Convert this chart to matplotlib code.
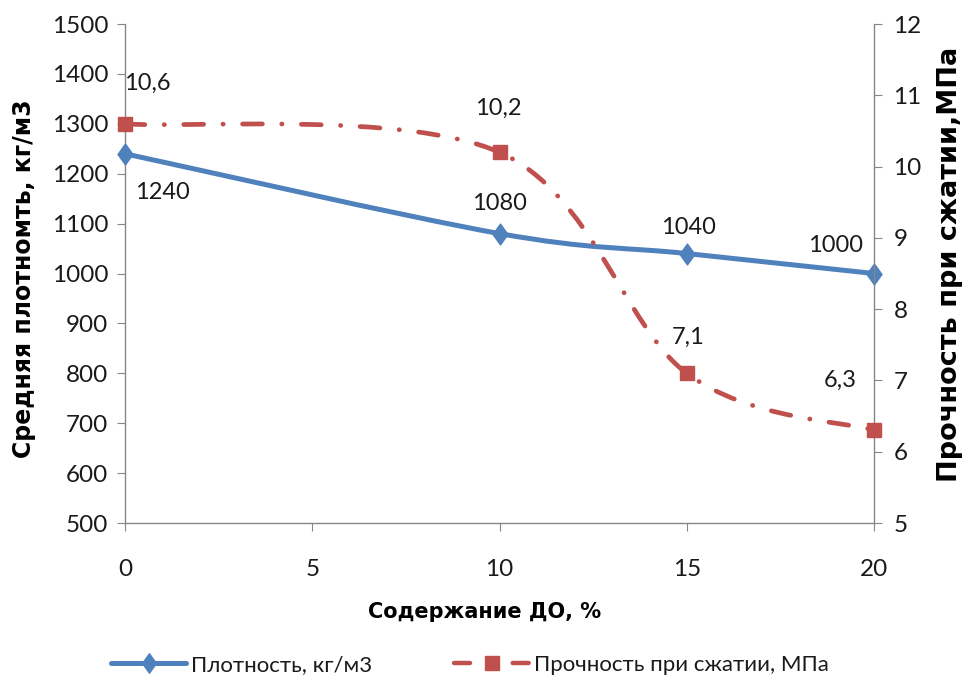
import matplotlib
matplotlib.use("Agg")
import matplotlib.pyplot as plt
from matplotlib.path import Path
from matplotlib.patches import PathPatch
from matplotlib.lines import Line2D
import numpy as np

plt.rcParams['font.family'] = ['Lato', 'Open Sans', 'DejaVu Sans']

# ---- data ----
content = [0, 10, 15, 20]
density = [1240, 1080, 1040, 1000]
strength = [10.6, 10.2, 7.1, 6.3]
density_labels = ["1240", "1080", "1040", "1000"]
strength_labels = ["10,6", "10,2", "7,1", "6,3"]
xticks = [0, 5, 10, 15, 20]
yticks_left = [500, 600, 700, 800, 900, 1000, 1100, 1200, 1300, 1400, 1500]
yticks_right = [5, 6, 7, 8, 9, 10, 11, 12]
xlabel = "Содержание ДО, %"
ylabel_left = "Средняя плотномть, кг/м3"
ylabel_right = "Прочность при сжатии,МПа"
legend_labels = ["Плотность, кг/м3", "Прочность при сжатии, МПа"]

BLUE = "#4F81BD"
RED = "#C0504D"
GRAY = "#868686"
TXT = "#1a1a1a"

# tall diamond marker
DIAMOND = Path([(0, 1), (0.72, 0), (0, -1), (-0.72, 0), (0, 1)],
               [Path.MOVETO, Path.LINETO, Path.LINETO, Path.LINETO, Path.CLOSEPOLY])


def smooth_path(xs, ys):
    pts = np.column_stack([xs, ys]).astype(float)
    n = len(pts)
    verts = [pts[0]]
    codes = [Path.MOVETO]
    for i in range(n - 1):
        p0 = pts[i - 1] if i > 0 else pts[i]
        p1 = pts[i]
        p2 = pts[i + 1]
        p3 = pts[i + 2] if i + 2 < n else pts[i + 1]
        c1 = p1 + (p2 - p0) / 6.0
        c2 = p2 - (p3 - p1) / 6.0
        verts += [c1, c2, p2]
        codes += [Path.CURVE4] * 3
    return Path(np.array(verts), codes)


fig = plt.figure(figsize=(9.66, 6.92), dpi=100)
ax = fig.add_axes([125 / 966, 1 - 523 / 692, (874 - 125) / 966, (523 - 24) / 692])
ax2 = ax.twinx()

ax.set_xlim(0, 20)
ax.set_ylim(500, 1500)
ax2.set_ylim(5, 12)
ax.set_xticks(xticks)
ax.set_yticks(yticks_left)
ax2.set_yticks(yticks_right)

for a in (ax, ax2):
    a.spines['top'].set_visible(False)
    for s in ('left', 'right', 'bottom'):
        a.spines[s].set_color(GRAY)
        a.spines[s].set_linewidth(1.0)
ax.spines['right'].set_visible(False)
ax2.spines['left'].set_visible(False)
ax2.spines['bottom'].set_visible(False)

ax.tick_params(axis='x', direction='out', length=6, color=GRAY, pad=20, labelsize=17.5, labelcolor=TXT)
ax.tick_params(axis='y', direction='out', length=6, color=GRAY, pad=6, labelsize=17.5, labelcolor=TXT)
ax2.tick_params(axis='y', direction='out', length=6, color=GRAY, pad=8, labelsize=17.5, labelcolor=TXT)

# density curve
p1 = PathPatch(smooth_path(content, density), facecolor='none', edgecolor=BLUE,
               linewidth=3.6, capstyle='round', joinstyle='round', zorder=3)
ax.add_patch(p1)
ax.plot(content, density, linestyle='none', marker=DIAMOND, markersize=15,
        color=BLUE, zorder=4, clip_on=False)

# strength curve
p2 = PathPatch(smooth_path(content, strength), facecolor='none', edgecolor=RED,
               linewidth=3.4, linestyle=(0, (4.2, 4.1, 0.05, 4.1)),
               capstyle='round', joinstyle='round', zorder=3, transform=ax2.transData)
ax2.add_patch(p2)
ax2.plot(content, strength, linestyle='none', marker='s', markersize=10.5,
         color=RED, zorder=4, clip_on=False)

# data labels (offsets in points)
d_off = [(27, -28), (0, 22), (1, 19), (-28, 20)]
s_off = [(16, 29), (-1, 32), (1, 26), (-24, 36)]
for x, y, t, o in zip(content, density, density_labels, d_off):
    ax.annotate(t, (x, y), xytext=o, textcoords='offset points', ha='center', va='center',
                fontsize=17, color=TXT, zorder=5, annotation_clip=False)
for x, y, t, o in zip(content, strength, strength_labels, s_off):
    ax2.annotate(t, (x, y), xytext=o, textcoords='offset points', ha='center', va='center',
                 fontsize=17, color=TXT, zorder=5, annotation_clip=False)

fig.text(485 / 966, 1 - 612 / 692, xlabel, ha='center', va='center', fontsize=15,
         fontweight='bold', family='DejaVu Sans')
fig.text(24 / 966, 1 - 279 / 692, ylabel_left, ha='center', va='center', rotation=90,
         fontsize=17, fontweight='bold', family='DejaVu Sans')
fig.text(950 / 966, 1 - 264 / 692, ylabel_right, ha='center', va='center', rotation=90,
         fontsize=19.5, fontweight='bold', family='DejaVu Sans')

h1 = Line2D([], [], color=BLUE, lw=3.6, marker=DIAMOND, markersize=14, solid_capstyle='round')
h2 = Line2D([], [], color=RED, lw=3.2, marker='s', markersize=10,
            linestyle=(0, (3.6, 9.6)), dash_capstyle='round')
fig.legend([h1, h2], legend_labels, loc='center', bbox_to_anchor=(470 / 966, 1 - 665 / 692),
           ncol=2, frameon=False, fontsize=16, handlelength=3.4, columnspacing=3.7,
           handletextpad=0.2, labelcolor=TXT)

fig.savefig("out.png", dpi=100)
